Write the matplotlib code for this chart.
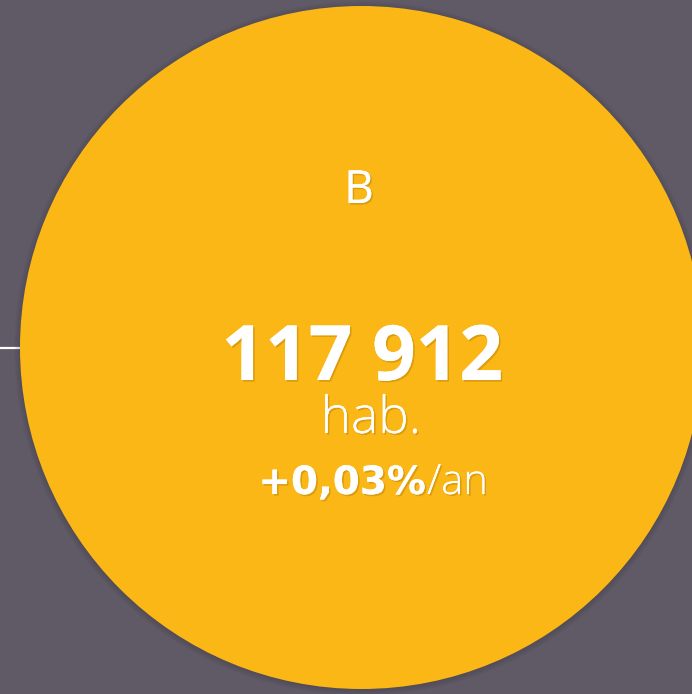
import matplotlib
matplotlib.use("Agg")
import matplotlib.pyplot as plt
from matplotlib.patches import Circle
import matplotlib.patheffects as pe

# Data
labels = ["B"]
populations = [117912]
growth_rates = [0.03]  # % per year

bg = "#5f5a66"
yellow = "#fbb716"

fig = plt.figure(figsize=(6.92, 6.94), dpi=100, facecolor=bg)
ax = fig.add_axes([0, 0, 1, 1])
ax.set_facecolor(bg)
ax.set_xlim(0, 692)
ax.set_ylim(694, 0)
ax.set_aspect("equal")
ax.axis("off")

cx, cy, r = 361.5, 347.5, 341.5

# connector line
ax.plot([0, cx - r], [cy, cy], color="white", lw=1.6, solid_capstyle="butt", zorder=1)

# shadow
for i, a in enumerate([0.06, 0.06, 0.06, 0.06]):
    ax.add_patch(Circle((cx, cy + 1), r + 1 + i * 1.5, color="#2a2630", alpha=a, lw=0, zorder=2))
ax.add_patch(Circle((cx, cy), r, facecolor=yellow, edgecolor="none", zorder=3))

shadow = [pe.withSimplePatchShadow(offset=(1.2, -1.2), shadow_rgbFace="#a06a00", alpha=0.35), pe.Normal()]
fam = ["Open Sans", "DejaVu Sans"]

ax.text(359, 203, labels[0], fontsize=33, family=fam, color="white", ha="center", va="baseline",
        path_effects=shadow, zorder=5)

pop_str = f"{populations[0]:,}".replace(",", " ")
ax.text(362, 380, pop_str, fontsize=55, family=fam, fontweight="bold", color="white",
        ha="center", va="baseline", path_effects=shadow, zorder=5)

ax.text(371, 433, "hab.", fontsize=37, family=fam, fontweight="light", color="white",
        ha="center", va="baseline", path_effects=shadow, zorder=5)

g = f"+{growth_rates[0]:.2f}%".replace(".", ",")
ax.text(426, 494, g, fontsize=28, family=["DejaVu Sans"], fontweight="bold", color="white",
        ha="right", va="baseline", path_effects=shadow, zorder=5)
ax.text(427, 494, "/an", fontsize=30, family=fam, fontweight="light", color="white",
        ha="left", va="baseline", path_effects=shadow, zorder=5)

fig.savefig("out.png", dpi=100, facecolor=bg)
